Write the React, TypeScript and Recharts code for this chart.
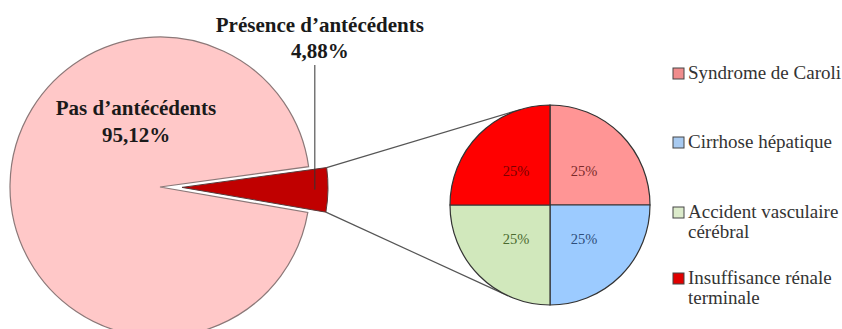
import React from "react";
import { PieChart, Pie, Cell, Customized } from "recharts";

// ---- data ----
const mainCategories = ["Présence d’antécédents", "Pas d’antécédents"];
const mainValues = [4.88, 95.12];
const mainLabels = ["4,88%", "95,12%"];

const subCategories = [
  "Syndrome de Caroli",
  "Cirrhose hépatique",
  "Accident vasculaire cérébral",
  "Insuffisance rénale terminale",
];
const subLegendLines = [
  ["Syndrome de Caroli"],
  ["Cirrhose hépatique"],
  ["Accident vasculaire", "cérébral"],
  ["Insuffisance rénale", "terminale"],
];
const subValues = [25, 25, 25, 25];
const subLabels = ["25%", "25%", "25%", "25%"];

// ---- styles / geometry ----
const W = 842;
const H = 329;
const FONT = "Liberation Serif";
const mainFills = ["#C00000", "#FFC8C8"];
const mainStrokes = ["#5a3a3a", "#8c7878"];
const subFills = ["#FF9595", "#9CCBFF", "#D1E8BC", "#FF0000"];
const subLabelColors = ["#7a2a2a", "#2d4d7a", "#4a6a2e", "#7a0000"];
const legendSwatch = ["#F08C8C", "#A8CAF0", "#DCEBCB", "#E00000"];

const BIG = { cx: 160, cy: 187, r: 150 };
const START = 7.8; // start angle of the exploded slice
const EXPLODE = 22;
const RED_R = 146;
const SMALL = { cx: 550, cy: 205, r: 100 };

const RAD = Math.PI / 180;
const presSpan = (mainValues[0] / (mainValues[0] + mainValues[1])) * 360;
const presMid = START - presSpan / 2;
const EX = {
  cx: BIG.cx + EXPLODE * Math.cos(presMid * RAD),
  cy: BIG.cy - EXPLODE * Math.sin(presMid * RAD),
};

const polar = (cx: number, cy: number, r: number, a: number) => ({
  x: cx + r * Math.cos(a * RAD),
  y: cy - r * Math.sin(a * RAD),
});

const tangent = (px: number, py: number, upper: boolean) => {
  const dx = px - SMALL.cx;
  const dy = py - SMALL.cy;
  const d = Math.sqrt(dx * dx + dy * dy);
  const tp = Math.atan2(dy, dx);
  const al = Math.acos(SMALL.r / d);
  const a = upper ? tp + al : tp - al;
  return { x: SMALL.cx + SMALL.r * Math.cos(a), y: SMALL.cy + SMALL.r * Math.sin(a) };
};

const Connectors = () => {
  const c1 = polar(EX.cx, EX.cy, RED_R, START);
  const c2 = polar(EX.cx, EX.cy, RED_R, START - presSpan);
  const t1 = tangent(c1.x, c1.y, true);
  const t2 = tangent(c2.x, c2.y, false);
  return (
    <g>
      <line x1={c1.x} y1={c1.y} x2={t1.x} y2={t1.y} stroke="#555" strokeWidth={1.2} />
      <line x1={c2.x} y1={c2.y} x2={t2.x} y2={t2.y} stroke="#555" strokeWidth={1.2} />
    </g>
  );
};

const LegendBlock = () => {
  const x0 = 673;
  const rows = [73, 142, 212, 278];
  return (
    <g>
      {subCategories.map((c, i) => (
        <g key={c}>
          <rect x={x0} y={rows[i] - 5} width={11} height={11} fill={legendSwatch[i]} stroke="#444" strokeWidth={1} />
          {subLegendLines[i].map((ln, j) => (
            <text
              key={j}
              x={x0 + 15}
              y={rows[i] + 6 + j * 20}
              fill="#333"
              fontFamily={FONT}
              fontSize={19}
            >
              {ln}
            </text>
          ))}
        </g>
      ))}
    </g>
  );
};

const pasLabel = (p: any) => {
  if (p.index !== 1) return null;
  return (
    <g>
      <text x={BIG.cx - 24} y={BIG.cy - 72} textAnchor="middle" fontFamily={FONT} fontWeight="bold" fontSize={21} fill="#1a1a1a">
        {mainCategories[1]}
      </text>
      <text x={BIG.cx - 24} y={BIG.cy - 45} textAnchor="middle" fontFamily={FONT} fontWeight="bold" fontSize={21} fill="#1a1a1a">
        {mainLabels[1]}
      </text>
    </g>
  );
};

const presLabel = (p: any) => {
  if (p.index !== 0) return null;
  const a = polar(EX.cx, EX.cy, RED_R * 0.91, presMid);
  return (
    <g>
      <line x1={a.x} y1={a.y} x2={a.x} y2={65} stroke="#333" strokeWidth={1} />
      <text x={a.x + 5} y={32} textAnchor="middle" fontFamily={FONT} fontWeight="bold" fontSize={21} fill="#1a1a1a">
        {mainCategories[0]}
      </text>
      <text x={a.x + 5} y={58} textAnchor="middle" fontFamily={FONT} fontWeight="bold" fontSize={21} fill="#1a1a1a">
        {mainLabels[0]}
      </text>
    </g>
  );
};

const subLabel = (p: any) => {
  const pt = polar(p.cx, p.cy, p.outerRadius * 0.48, p.midAngle);
  return (
    <text x={pt.x} y={pt.y + 5} textAnchor="middle" fontFamily={FONT} fontSize={14.5} fill={subLabelColors[p.index]}>
      {subLabels[p.index]}
    </text>
  );
};

const mainData = mainCategories.map((name, i) => ({ name, value: mainValues[i] }));
const subData = subCategories.map((name, i) => ({ name, value: subValues[i] }));

export default function App() {
  return (
    <div style={{ position: "absolute", left: 0, top: 0, width: W, height: H, background: "#fff", fontFamily: FONT }}>
      <PieChart width={W} height={H} margin={{ top: 0, right: 0, bottom: 0, left: 0 }} style={{ fontFamily: FONT }}>
        <Customized component={Connectors} />
        <Pie
          data={mainData}
          dataKey="value"
          cx={BIG.cx}
          cy={BIG.cy}
          outerRadius={BIG.r}
          startAngle={START}
          endAngle={START - 360}
          isAnimationActive={false}
          label={pasLabel}
          labelLine={false}
        >
          <Cell fill="none" stroke="none" />
          <Cell fill={mainFills[1]} stroke={mainStrokes[1]} strokeWidth={1.2} />
        </Pie>
        <Pie
          data={mainData}
          dataKey="value"
          cx={EX.cx}
          cy={EX.cy}
          outerRadius={RED_R}
          startAngle={START}
          endAngle={START - 360}
          isAnimationActive={false}
          label={presLabel}
          labelLine={false}
        >
          <Cell fill={mainFills[0]} stroke={mainStrokes[0]} strokeWidth={1} />
          <Cell fill="none" stroke="none" />
        </Pie>
        <Pie
          data={subData}
          dataKey="value"
          cx={SMALL.cx}
          cy={SMALL.cy}
          outerRadius={SMALL.r}
          startAngle={90}
          endAngle={-270}
          isAnimationActive={false}
          label={subLabel}
          labelLine={false}
        >
          {subData.map((d, i) => (
            <Cell key={d.name} fill={subFills[i]} stroke="#333" strokeWidth={1.2} />
          ))}
        </Pie>
        <Customized component={LegendBlock} />
      </PieChart>
    </div>
  );
}
